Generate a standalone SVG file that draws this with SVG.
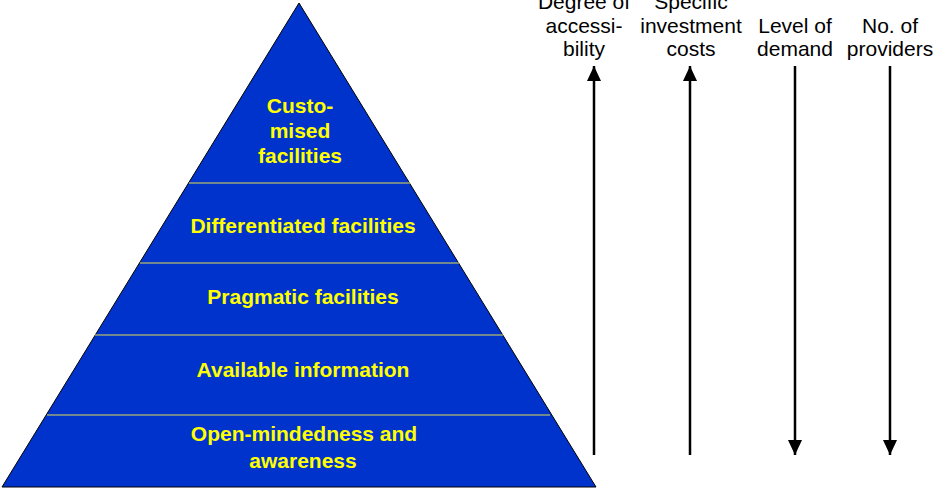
<svg xmlns="http://www.w3.org/2000/svg" width="935" height="488" viewBox="0 0 935 488">
<defs>
<style>
.pyr{fill:#0033cc;stroke:#000;stroke-width:1}
.div{stroke:#e0e050;stroke-width:1.2}
.pt{font-family:"Liberation Sans",Arial,sans-serif;font-weight:bold;font-size:21px;fill:#ffff00;text-anchor:middle}
.lt{font-family:"Liberation Sans",Arial,sans-serif;font-size:21px;fill:#000;text-anchor:middle}
.ar{stroke:#000;stroke-width:2.5;fill:none}
</style>
<marker id="ah" markerUnits="userSpaceOnUse" markerWidth="16" markerHeight="16" viewBox="0 0 16 16" refX="15" refY="8" orient="auto">
<path d="M0,1 L15,8 L0,15 Z" fill="#000"/>
</marker>
</defs>
<g id="pyramid">
<polygon class="pyr" points="299,3 596,487 2,487"/>
<line class="div" x1="189" y1="183" x2="410" y2="183"/>
<line class="div" x1="140" y1="263" x2="459" y2="263"/>
<line class="div" x1="95" y1="335" x2="503" y2="335"/>
<line class="div" x1="47" y1="415" x2="550" y2="415"/>
</g>
<g id="level-customised">
<text class="pt" x="300" y="113">Custo-</text>
<text class="pt" x="300" y="138">mised</text>
<text class="pt" x="300" y="163">facilities</text>
</g>
<g id="level-differentiated">
<text class="pt" x="303" y="233">Differentiated facilities</text>
</g>
<g id="level-pragmatic">
<text class="pt" x="303" y="304">Pragmatic facilities</text>
</g>
<g id="level-available">
<text class="pt" x="303" y="377">Available information</text>
</g>
<g id="level-open">
<text class="pt" x="304" y="441">Open-mindedness and</text>
<text class="pt" x="303" y="468">awareness</text>
</g>
<g id="label-accessibility">
<text class="lt" x="584" y="9">Degree of</text>
<text class="lt" x="584" y="33">accessi-</text>
<text class="lt" x="584" y="56">bility</text>
</g>
<g id="label-costs">
<text class="lt" x="691" y="9">Specific</text>
<text class="lt" x="691" y="33">investment</text>
<text class="lt" x="691" y="56">costs</text>
</g>
<g id="label-demand">
<text class="lt" x="795" y="33">Level of</text>
<text class="lt" x="795" y="56">demand</text>
</g>
<g id="label-providers">
<text class="lt" x="890" y="33">No. of</text>
<text class="lt" x="890" y="56">providers</text>
</g>
<g id="connectors">
<line class="ar" x1="594" y1="455" x2="594" y2="66" marker-end="url(#ah)"/>
<line class="ar" x1="690" y1="455" x2="690" y2="66" marker-end="url(#ah)"/>
<line class="ar" x1="795" y1="66" x2="795" y2="455" marker-end="url(#ah)"/>
<line class="ar" x1="890" y1="66" x2="890" y2="455" marker-end="url(#ah)"/>
</g>
</svg>
